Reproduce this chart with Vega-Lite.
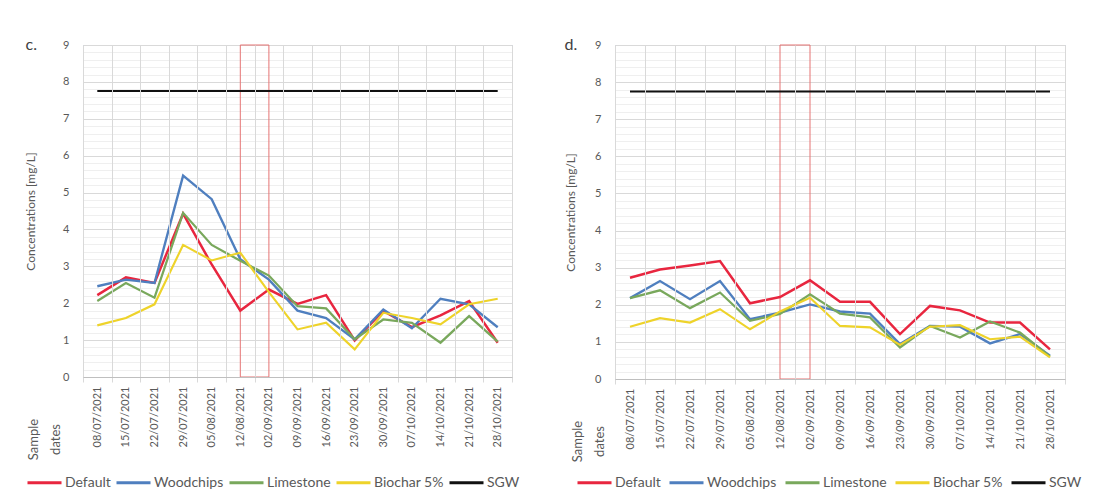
{
  "$schema": "https://vega.github.io/schema/vega-lite/v6.json",
  "background": "white",
  "padding": {"left": 24, "top": 36, "right": 0, "bottom": 0},
  "config": {
    "font": "Lato",
    "view": {"stroke": "#b7cbe3", "strokeWidth": 1},
    "axis": {"labelFont": "Lato", "titleFont": "Lato", "labelColor": "#595959", "titleColor": "#595959", "labelFontSize": 11, "titleFontSize": 12, "titleFontWeight": "normal"},
    "legend": {"orient": "none", "direction": "horizontal", "symbolType": "stroke", "symbolSize": 1156, "symbolStrokeWidth": 3, "labelFontSize": 14, "labelColor": "#595959", "labelFont": "Lato", "columnPadding": -1, "labelOffset": 2, "title": null}
  },
  "datasets": {
    "hl": [{"start": "12/08/2021", "end": "02/09/2021"}],
    "c": [
      {"date": "08/07/2021", "Default": 2.22, "Woodchips": 2.46, "Limestone": 2.06, "Biochar 5%": 1.4, "SGW": 7.75},
      {"date": "15/07/2021", "Default": 2.7, "Woodchips": 2.64, "Limestone": 2.55, "Biochar 5%": 1.6, "SGW": 7.75},
      {"date": "22/07/2021", "Default": 2.55, "Woodchips": 2.55, "Limestone": 2.15, "Biochar 5%": 1.97, "SGW": 7.75},
      {"date": "29/07/2021", "Default": 4.43, "Woodchips": 5.46, "Limestone": 4.45, "Biochar 5%": 3.58, "SGW": 7.75},
      {"date": "05/08/2021", "Default": 3.05, "Woodchips": 4.82, "Limestone": 3.58, "Biochar 5%": 3.16, "SGW": 7.75},
      {"date": "12/08/2021", "Default": 1.8, "Woodchips": 3.19, "Limestone": 3.15, "Biochar 5%": 3.37, "SGW": 7.75},
      {"date": "02/09/2021", "Default": 2.37, "Woodchips": 2.64, "Limestone": 2.75, "Biochar 5%": 2.3, "SGW": 7.75},
      {"date": "09/09/2021", "Default": 1.98, "Woodchips": 1.8, "Limestone": 1.92, "Biochar 5%": 1.29, "SGW": 7.75},
      {"date": "16/09/2021", "Default": 2.22, "Woodchips": 1.6, "Limestone": 1.86, "Biochar 5%": 1.47, "SGW": 7.75},
      {"date": "23/09/2021", "Default": 0.99, "Woodchips": 1.02, "Limestone": 1.02, "Biochar 5%": 0.75, "SGW": 7.75},
      {"date": "30/09/2021", "Default": 1.79, "Woodchips": 1.83, "Limestone": 1.56, "Biochar 5%": 1.74, "SGW": 7.75},
      {"date": "07/10/2021", "Default": 1.35, "Woodchips": 1.32, "Limestone": 1.47, "Biochar 5%": 1.6, "SGW": 7.75},
      {"date": "14/10/2021", "Default": 1.67, "Woodchips": 2.12, "Limestone": 0.93, "Biochar 5%": 1.43, "SGW": 7.75},
      {"date": "21/10/2021", "Default": 2.06, "Woodchips": 1.97, "Limestone": 1.65, "Biochar 5%": 1.97, "SGW": 7.75},
      {"date": "28/10/2021", "Default": 0.93, "Woodchips": 1.35, "Limestone": 0.96, "Biochar 5%": 2.12, "SGW": 7.75}
    ],
    "d": [
      {"date": "08/07/2021", "Default": 2.73, "Woodchips": 2.18, "Limestone": 2.18, "Biochar 5%": 1.41, "SGW": 7.75},
      {"date": "15/07/2021", "Default": 2.95, "Woodchips": 2.64, "Limestone": 2.39, "Biochar 5%": 1.64, "SGW": 7.75},
      {"date": "22/07/2021", "Default": 3.06, "Woodchips": 2.15, "Limestone": 1.91, "Biochar 5%": 1.52, "SGW": 7.75},
      {"date": "29/07/2021", "Default": 3.18, "Woodchips": 2.64, "Limestone": 2.33, "Biochar 5%": 1.88, "SGW": 7.75},
      {"date": "05/08/2021", "Default": 2.04, "Woodchips": 1.61, "Limestone": 1.57, "Biochar 5%": 1.34, "SGW": 7.75},
      {"date": "12/08/2021", "Default": 2.21, "Woodchips": 1.79, "Limestone": 1.75, "Biochar 5%": 1.82, "SGW": 7.75},
      {"date": "02/09/2021", "Default": 2.66, "Woodchips": 2.01, "Limestone": 2.28, "Biochar 5%": 2.19, "SGW": 7.75},
      {"date": "09/09/2021", "Default": 2.08, "Woodchips": 1.82, "Limestone": 1.76, "Biochar 5%": 1.43, "SGW": 7.75},
      {"date": "16/09/2021", "Default": 2.08, "Woodchips": 1.76, "Limestone": 1.66, "Biochar 5%": 1.39, "SGW": 7.75},
      {"date": "23/09/2021", "Default": 1.21, "Woodchips": 0.94, "Limestone": 0.85, "Biochar 5%": 0.92, "SGW": 7.75},
      {"date": "30/09/2021", "Default": 1.97, "Woodchips": 1.43, "Limestone": 1.43, "Biochar 5%": 1.41, "SGW": 7.75},
      {"date": "07/10/2021", "Default": 1.85, "Woodchips": 1.41, "Limestone": 1.12, "Biochar 5%": 1.45, "SGW": 7.75},
      {"date": "14/10/2021", "Default": 1.52, "Woodchips": 0.96, "Limestone": 1.55, "Biochar 5%": 1.07, "SGW": 7.75},
      {"date": "21/10/2021", "Default": 1.52, "Woodchips": 1.21, "Limestone": 1.25, "Biochar 5%": 1.14, "SGW": 7.75},
      {"date": "28/10/2021", "Default": 0.8, "Woodchips": 0.63, "Limestone": 0.6, "Biochar 5%": 0.58, "SGW": 7.75}
    ]
  },
  "spacing": 43,
  "resolve": {"legend": {"color": "independent"}, "scale": {"color": "independent"}},
  "hconcat": [
    {
      "width": 429,
      "height": 332,
      "title": {"text": "c.", "anchor": "start", "frame": "bounds", "fontSize": 16, "fontWeight": "normal", "color": "#404040", "font": "Lato", "offset": -14, "dx": 1},
      "resolve": {"axis": {"y": "independent"}},
      "layer": [
        {
          "data": {"name": "hl"},
          "mark": {"type": "rect", "fill": "transparent", "stroke": "#e57373", "strokeWidth": 1},
          "encoding": {
            "x": {"field": "start", "type": "ordinal", "bandPosition": 0.5, "scale": {"type": "band", "paddingInner": 0, "paddingOuter": 0, "domain": ["08/07/2021","15/07/2021","22/07/2021","29/07/2021","05/08/2021","12/08/2021","02/09/2021","09/09/2021","16/09/2021","23/09/2021","30/09/2021","07/10/2021","14/10/2021","21/10/2021","28/10/2021"]}, "axis": {"title": ["Sample", "dates"], "labelAngle": 270, "grid": true, "gridColor": "#d9d9d9", "tickBand": "extent", "ticks": true, "tickSize": 5, "tickColor": "#d9d9d9", "domainColor": "#bfbfbf", "labelPadding": 4, "titleAngle": 270, "titleX": -43, "titleY": 62, "titleAlign": "center", "titleBaseline": "bottom", "titleFontSize": 13, "titleLineHeight": 22}},
            "x2": {"field": "end", "bandPosition": 0.5},
            "y": {"datum": 0, "type": "quantitative", "axis": {"orient": "right", "values": [0.2,0.4,0.6,0.8,1.2,1.4,1.6,1.8,2.2,2.4,2.6,2.8,3.2,3.4,3.6,3.8,4.2,4.4,4.6,4.8,5.2,5.4,5.6,5.8,6.2,6.4,6.6,6.8,7.2,7.4,7.6,7.8,8.2,8.4,8.6,8.8], "grid": true, "gridColor": "#efefef", "labels": false, "ticks": false, "domain": false, "title": null}},
            "y2": {"datum": 9}
          }
        },
        {
          "data": {"name": "c"},
          "transform": [{"fold": ["Default", "Woodchips", "Limestone", "Biochar 5%", "SGW"], "as": ["series", "value"]}],
          "mark": {"type": "line"},
          "encoding": {
            "x": {"field": "date", "type": "ordinal", "sort": null, "axis": {"title": ["Sample", "dates"], "labelAngle": 270, "grid": true, "gridColor": "#d9d9d9", "tickBand": "extent", "ticks": true, "tickSize": 5, "tickColor": "#d9d9d9", "domainColor": "#bfbfbf", "labelPadding": 4, "titleAngle": 270, "titleX": -43, "titleY": 62, "titleAlign": "center", "titleBaseline": "bottom", "titleFontSize": 13, "titleLineHeight": 22}},
            "y": {"field": "value", "type": "quantitative", "scale": {"domain": [0, 9], "nice": false}, "axis": {"values": [0,1,2,3,4,5,6,7,8,9], "grid": true, "gridColor": "#d9d9d9", "domain": false, "ticks": false, "labelPadding": 14, "title": "Concentrations [mg/L]", "titlePadding": 25}},
            "color": {"field": "series", "type": "nominal", "sort": null, "scale": {"domain": ["Default", "Woodchips", "Limestone", "Biochar 5%", "SGW"], "range": ["#e8263f", "#4f7fbf", "#79a85c", "#eed32a", "#111111"]}, "legend": {"legendX": -57, "legendY": 419}},
            "strokeWidth": {"field": "series", "type": "nominal", "scale": {"domain": ["Default", "Woodchips", "Limestone", "Biochar 5%", "SGW"], "range": [2.5, 2, 2, 2, 3]}, "legend": null}
          }
        }
      ]
    },
    {
      "width": 450,
      "height": 334,
      "title": {"text": "d.", "anchor": "start", "frame": "bounds", "fontSize": 16, "fontWeight": "normal", "color": "#404040", "font": "Lato", "offset": -14},
      "resolve": {"axis": {"y": "independent"}},
      "layer": [
        {
          "data": {"name": "hl"},
          "mark": {"type": "rect", "fill": "transparent", "stroke": "#e57373", "strokeWidth": 1},
          "encoding": {
            "x": {"field": "start", "type": "ordinal", "bandPosition": 0.5, "scale": {"type": "band", "paddingInner": 0, "paddingOuter": 0, "domain": ["08/07/2021","15/07/2021","22/07/2021","29/07/2021","05/08/2021","12/08/2021","02/09/2021","09/09/2021","16/09/2021","23/09/2021","30/09/2021","07/10/2021","14/10/2021","21/10/2021","28/10/2021"]}, "axis": {"title": ["Sample", "dates"], "labelAngle": 270, "grid": true, "gridColor": "#d9d9d9", "tickBand": "extent", "ticks": true, "tickSize": 5, "tickColor": "#d9d9d9", "domainColor": "#bfbfbf", "labelPadding": 4, "titleAngle": 270, "titleX": -31, "titleY": 62, "titleAlign": "center", "titleBaseline": "bottom", "titleFontSize": 13, "titleLineHeight": 22}},
            "x2": {"field": "end", "bandPosition": 0.5},
            "y": {"datum": 0, "type": "quantitative", "axis": {"orient": "right", "values": [0.2,0.4,0.6,0.8,1.2,1.4,1.6,1.8,2.2,2.4,2.6,2.8,3.2,3.4,3.6,3.8,4.2,4.4,4.6,4.8,5.2,5.4,5.6,5.8,6.2,6.4,6.6,6.8,7.2,7.4,7.6,7.8,8.2,8.4,8.6,8.8], "grid": true, "gridColor": "#efefef", "labels": false, "ticks": false, "domain": false, "title": null}},
            "y2": {"datum": 9}
          }
        },
        {
          "data": {"name": "d"},
          "transform": [{"fold": ["Default", "Woodchips", "Limestone", "Biochar 5%", "SGW"], "as": ["series", "value"]}],
          "mark": {"type": "line"},
          "encoding": {
            "x": {"field": "date", "type": "ordinal", "sort": null, "axis": {"title": ["Sample", "dates"], "labelAngle": 270, "grid": true, "gridColor": "#d9d9d9", "tickBand": "extent", "ticks": true, "tickSize": 5, "tickColor": "#d9d9d9", "domainColor": "#bfbfbf", "labelPadding": 4, "titleAngle": 270, "titleX": -31, "titleY": 62, "titleAlign": "center", "titleBaseline": "bottom", "titleFontSize": 13, "titleLineHeight": 22}},
            "y": {"field": "value", "type": "quantitative", "scale": {"domain": [0, 9], "nice": false}, "axis": {"values": [0,1,2,3,4,5,6,7,8,9], "grid": true, "gridColor": "#d9d9d9", "domain": false, "ticks": false, "labelPadding": 14, "title": "Concentrations [mg/L]", "titlePadding": 17}},
            "color": {"field": "series", "type": "nominal", "sort": null, "scale": {"domain": ["Default", "Woodchips", "Limestone", "Biochar 5%", "SGW"], "range": ["#e8263f", "#4f7fbf", "#79a85c", "#eed32a", "#111111"]}, "legend": {"legendX": -39, "legendY": 419, "columnPadding": 2}},
            "strokeWidth": {"field": "series", "type": "nominal", "scale": {"domain": ["Default", "Woodchips", "Limestone", "Biochar 5%", "SGW"], "range": [2.5, 2, 2, 2, 3]}, "legend": null}
          }
        }
      ]
    }
  ]
}
